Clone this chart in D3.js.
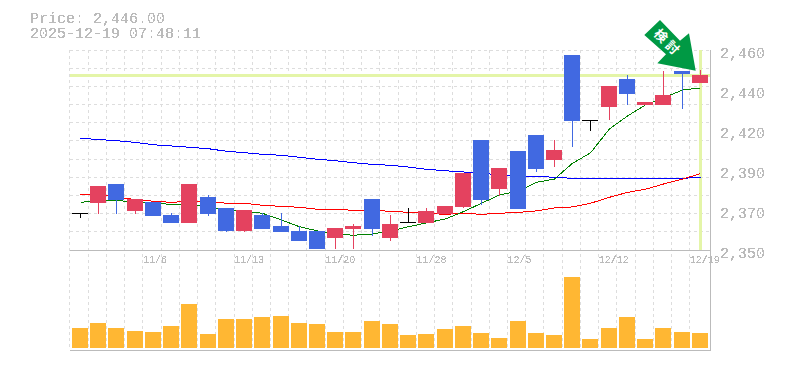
<!DOCTYPE html>
<html lang="ja">
<head>
  <meta charset="UTF-8">
  <script src="https://d3js.org/d3.v7.min.js"></script>
  <title>Price chart</title>
</head>
<body style="background-color:#fff;margin:0;overflow:hidden;">
  <div id="chart"></div>

  <script>
    const dates = ["10/30","10/31","11/4","11/5","11/6","11/7","11/10","11/11","11/12","11/13",
      "11/14","11/17","11/18","11/19","11/20","11/21","11/25","11/26","11/27","11/28",
      "12/1","12/2","12/3","12/4","12/5","12/8","12/9","12/10","12/11","12/12",
      "12/15","12/16","12/17","12/18","12/19"];

    const open = [2370.2,2376,2386.3,2371.5,2376.6,2369.3,2364.9,2379.2,2373.1,2360.5,
      2369.3,2363.2,2360.5,2360.5,2356.6,2361.6,2378,2356.6,2365.2,2364.9,
      2369.8,2373.7,2410.5,2383.5,2404.4,2413.2,2399.5,2457.2,2421.3,2428.7,
      2444,2429.8,2429.8,2448.5,2441.9];
    const high = [2370.2,2385.2,2386.3,2378,2376.6,2370.4,2386.3,2380.3,2373.1,2372,
      2370.2,2370.4,2363.2,2360.5,2362.1,2364.3,2378,2369.3,2373.1,2373.1,
      2374.2,2392.3,2410.5,2395.1,2404.4,2413.2,2410.5,2457.2,2421.3,2440.2,
      2446.3,2431.4,2448.5,2448.5,2449];
    const low = [2367.8,2369.8,2369.8,2369.8,2368.7,2364.9,2364.9,2368.7,2359.9,2359.9,
      2361.6,2359.9,2355,2350.6,2350.6,2350.6,2357.7,2355,2365.2,2364.9,
      2369.8,2373.1,2374.8,2379.7,2372.6,2392.9,2395.7,2406.7,2415.6,2421.5,
      2429.8,2429.8,2429.8,2427.6,2441.9];
    const close = [2370.2,2385.2,2377.7,2378,2368.7,2364.9,2386.3,2369.8,2360.5,2372,
      2361.6,2359.9,2355,2350.6,2362.1,2363.2,2361.6,2364.3,2365.2,2371.5,
      2374.2,2392.3,2377.5,2395.1,2372.6,2394.6,2405,2421,2421.3,2440.2,
      2435.8,2431.4,2435.3,2446.8,2446.3];

    const maShort = [2376.2,2377.3,2377.3,2376.2,2375.7,2375.1,2375.1,2373.5,2371.8,2371.1,
      2370.2,2366.5,2362.8,2360.5,2358.8,2358.1,2358.8,2360.5,2362.8,2364.9,
      2367.1,2371.1,2375.7,2380.3,2382.5,2387.2,2389,2397.7,2403.4,2416.6,
      2423.7,2429.8,2433.6,2438,2439.1];
    const maMid = [2380.6,2380.3,2379.2,2377.7,2376.8,2376.2,2376.8,2376.8,2375.7,2375.7,
      2374.6,2374,2373.5,2372.4,2372.4,2371.8,2371.8,2371.3,2370.7,2370.2,
      2369.6,2370.2,2369.6,2370.2,2370.7,2371.5,2373.1,2373.7,2375.7,2379,
      2381.7,2383.4,2386.3,2389,2392];
    const maLong = [2411.4,2410.8,2410.1,2409.2,2407.9,2407.2,2406.5,2405.7,2404.3,2403.5,
      2402.6,2402.1,2401,2399.9,2399.1,2398,2397.1,2396.6,2395.6,2394.4,
      2393.6,2392.9,2392.2,2391.3,2390.5,2390.5,2390,2389.4,2389.4,2389.4,
      2389.4,2389.4,2389.4,2389.4,2390];

    const volume = [20,25,20,17,16,22,44,14,29,29,31,32,25,24,16,16,27,24,
      13,14,19,22,15,10,27,15,13,71,9,20,31,9,20,16,15];

    const priceTicks = [2460,2438,2416,2394,2372,2350];
    const priceTickLabels = ["2,460","2,440","2,420","2,390","2,370","2,350"];
    const dateTicks = ["11/6","11/13","11/20","11/28","12/5","12/12","12/19"];

    const currentPrice = 2446;
    const title = ["Price: 2,446.00", "2025-12-19 07:48:11"];

    const width = 785, height = 370;
    const font = "'Liberation Mono', monospace";
    const textColor = "#bbbbbb";

    const x = d3.scaleBand().domain(dates).range([70, 708.05]);
    const y = d3.scaleLinear().domain([2350, 2460]).range([250, 50]);
    const yVol = d3.scaleLinear().domain([0, 71]).range([348, 277]);
    const cx = d => Math.round(x(d)) + 10.5;

    const svg = d3.select("#chart").append("svg")
        .attr("width", width)
        .attr("height", height)
        .style("display", "block");

    // hard threshold on alpha, the original text is not antialiased
    svg.append("defs").append("filter")
        .attr("id", "aliased")
        .attr("x", "-5%").attr("y", "-20%").attr("width", "110%").attr("height", "140%")
        .append("feComponentTransfer")
        .append("feFuncA")
        .attr("type", "discrete")
        .attr("tableValues", "0 0 1 1 1");

    // grid
    const grid = svg.append("g")
        .attr("stroke", "#dddddd")
        .attr("stroke-dasharray", "3,3")
        .attr("shape-rendering", "crispEdges");

    grid.selectAll("line.h")
        .data(d3.range(2360, 2461, 10))
        .join("line")
        .attr("class", "h")
        .attr("x1", 70).attr("x2", 710)
        .attr("y1", d => Math.floor(y(d)) + 0.5)
        .attr("y2", d => Math.floor(y(d)) + 0.5);

    grid.selectAll("line.v")
        .data(dates)
        .join("line")
        .attr("class", "v")
        .attr("y1", 50).attr("y2", 350)
        .attr("x1", d => Math.floor(x(d)) + 0.5)
        .attr("x2", d => Math.floor(x(d)) + 0.5);

    // frame
    const frame = svg.append("g")
        .attr("stroke", textColor)
        .attr("shape-rendering", "crispEdges");
    frame.append("line").attr("x1", 70).attr("x2", 710).attr("y1", 250.5).attr("y2", 250.5);
    frame.append("line").attr("x1", 70).attr("x2", 710).attr("y1", 350.5).attr("y2", 350.5);
    frame.append("line").attr("x1", 710.5).attr("x2", 710.5).attr("y1", 50).attr("y2", 351);

    // current price and last day markers
    const marker = svg.append("g")
        .attr("stroke", "#e4f5a8")
        .attr("stroke-width", 3)
        .attr("shape-rendering", "crispEdges");
    marker.append("line")
        .attr("x1", 70).attr("x2", 710)
        .attr("y1", y(currentPrice)).attr("y2", y(currentPrice));
    marker.append("line")
        .attr("x1", cx("12/19")).attr("x2", cx("12/19"))
        .attr("y1", 50).attr("y2", 250);

    // moving averages
    const maLine = d3.line()
        .x((d, i) => cx(dates[i]))
        .y(d => y(d));

    [[maLong, "#0000ff"], [maMid, "#ff0000"], [maShort, "#008000"]].forEach(([values, color]) => {
      svg.append("path")
          .attr("d", maLine(values))
          .attr("fill", "none")
          .attr("stroke", color)
          .attr("stroke-width", 1)
          .attr("shape-rendering", "crispEdges");
    });

    // candles
    const candleColor = i => close[i] > open[i] ? "#e4425f" : close[i] < open[i] ? "#4169e1" : "#000000";
    const candle = svg.append("g")
        .attr("shape-rendering", "crispEdges")
        .selectAll("g")
        .data(dates)
        .join("g");

    candle.append("line")
        .attr("x1", d => cx(d))
        .attr("x2", d => cx(d))
        .attr("y1", (d, i) => y(high[i]))
        .attr("y2", (d, i) => y(low[i]))
        .attr("stroke", (d, i) => candleColor(i));

    candle.append("rect")
        .attr("x", d => Math.round(x(d)) + 2)
        .attr("width", 16)
        .attr("y", (d, i) => Math.round(y(Math.max(open[i], close[i]))))
        .attr("height", (d, i) => Math.max(1, Math.round(y(Math.min(open[i], close[i]))) - Math.round(y(Math.max(open[i], close[i])))))
        .attr("fill", (d, i) => candleColor(i));

    // volume
    svg.append("g")
        .attr("shape-rendering", "crispEdges")
        .selectAll("rect")
        .data(volume)
        .join("rect")
        .attr("x", (d, i) => Math.round(x(dates[i])) + 2)
        .attr("width", 16)
        .attr("y", d => yVol(d))
        .attr("height", d => yVol(0) - yVol(d))
        .attr("fill", "#ffb733");

    // axes
    const yAxis = d3.axisRight(y)
        .tickValues(priceTicks)
        .tickSize(0)
        .tickPadding(0)
        .tickFormat((d, i) => priceTickLabels[i]);

    const xAxis = d3.axisBottom(x)
        .tickValues(dateTicks)
        .tickSize(0)
        .tickPadding(0);

    const gy = svg.append("g")
        .attr("transform", "translate(720,3)")
        .attr("filter", "url(#aliased)")
        .call(yAxis);
    gy.select(".domain").remove();
    gy.selectAll("text")
        .attr("fill", textColor)
        .attr("font-family", font)
        .attr("font-size", "15px");

    const gx = svg.append("g")
        .attr("transform", "translate(0,256)")
        .attr("filter", "url(#aliased)")
        .call(xAxis);
    gx.select(".domain").remove();
    gx.selectAll("text")
        .attr("fill", textColor)
        .attr("font-family", font)
        .attr("font-size", "10px")
        .attr("text-anchor", "start")
        .attr("dy", "0.71em")
        .attr("x", -x.bandwidth() / 2);

    // title
    svg.append("g")
        .attr("filter", "url(#aliased)")
        .selectAll("text")
        .data(title)
        .join("text")
        .attr("x", 30)
        .attr("y", (d, i) => 23 + i * 15)
        .attr("fill", textColor)
        .attr("font-family", font)
        .attr("font-size", "15px")
        .text(d => d);

    // arrow
    const arrow = svg.append("g");
    arrow.append("polygon")
        .attr("points", "660,20 680,40.7 689,33.3 695.7,70.7 657.3,63.3 666,54.3 644.3,35")
        .attr("fill", "#009944");
    arrow.selectAll("text")
        .data(["検", "討"])
        .join("text")
        .attr("transform", (d, i) => `translate(${660 + i * 11.7},${36.7 + i * 11.7}) rotate(45)`)
        .attr("text-anchor", "middle")
        .attr("dominant-baseline", "middle")
        .attr("fill", "#ffffff")
        .attr("font-family", "'Noto Sans CJK JP'")
        .attr("font-weight", "bold")
        .attr("font-size", "13px")
        .text(d => d);
  </script>
</body>
</html>
